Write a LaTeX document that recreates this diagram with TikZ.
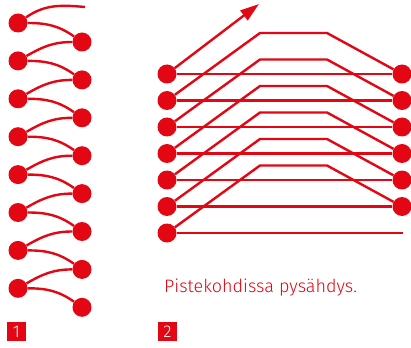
\documentclass[tikz,border=0pt]{standalone}
\usepackage{fontspec}
\setmainfont{Fira Sans Light}
\usetikzlibrary{arrows.meta}
\definecolor{signred}{HTML}{E30613}
\tikzset{
  dot/.style={circle, fill=signred, inner sep=0pt, minimum size=19pt},
  wire/.style={draw=signred, line width=2.4pt},
  numbox/.style={rectangle, fill=signred, text=white, minimum size=19pt, inner sep=0pt, font=\fontsize{17}{17}\selectfont}
}
\begin{document}
\begin{tikzpicture}[x=1pt, y=-1pt]
 \useasboundingbox (0,0) rectangle (411,347);
 % spiral binding
 \foreach \i in {1,...,8} {
   \node [dot] (L\i) at (18, {23+37.9*(\i-1)}) {};
   \node [dot] (R\i) at (82, {42+37.9*(\i-1)}) {};
 }
 \coordinate (top) at (85, 7);
 \draw [wire] (L1) to [out=35, in=175] (top);
 \foreach \i in {1,...,8}
   \draw [wire] (L\i) to [out=0, in=145] (R\i);
 \foreach \i in {1,...,7} {
   \pgfmathtruncatemacro\j{\i+1}
   \draw [wire] (R\i) to [out=180, in=30] (L\j);
 }
 % zigzag with stops
 \foreach \k in {1,...,7}
   \node [dot] (A\k) at (167, {74+26.5*(\k-1)}) {};
 \foreach \k in {1,...,6}
   \node [dot] (B\k) at (402, {74+26.5*(\k-1)}) {};
 \coordinate (end) at (403, 233);
 \coordinate (tip) at (259, 4);
 \foreach \k in {1,...,6}
   \draw [wire] (A\k) -- (B\k);
 \draw [wire] (A7) -- (end);
 \foreach \k in {1,...,6} {
   \pgfmathtruncatemacro\m{\k+1}
   \draw [wire] (A\m) -- (260, {33+26.5*(\k-1)}) -- (327, {33+26.5*(\k-1)}) -- (B\k);
 }
 \draw [wire, -{Triangle[length=19pt, width=12pt]}] (A1) -- (tip);
 % texts
 \node [anchor=base west, inner sep=0pt, text=signred, font=\fontsize{18}{18}\selectfont] (note) at (164, 292) {Pistekohdissa pysähdys.};
 \node [numbox] (one) at (16.5, 331.5) {1};
 \node [numbox] (two) at (167.5, 331.5) {2};
\end{tikzpicture}
\end{document}
